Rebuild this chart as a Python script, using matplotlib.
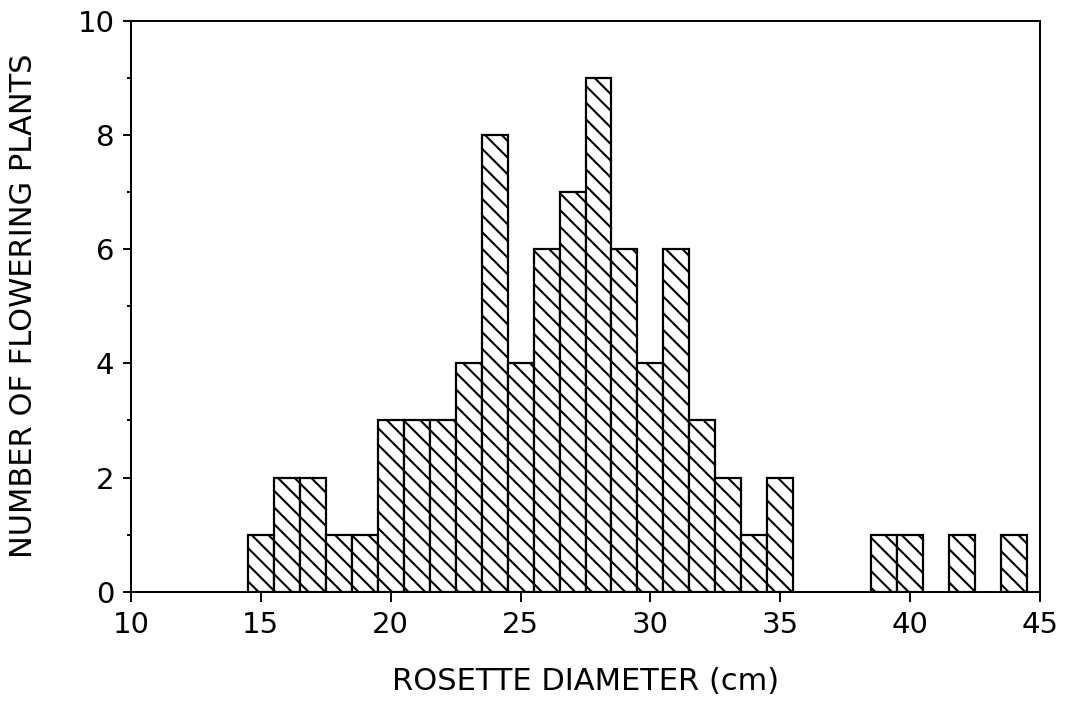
import matplotlib
matplotlib.use("Agg")
import matplotlib.pyplot as plt

diameters = [15, 16, 17, 18, 19, 20, 21, 22, 23, 24, 25, 26, 27, 28, 29, 30,
             31, 32, 33, 34, 35, 39, 40, 42, 44]
counts = [1, 2, 2, 1, 1, 3, 3, 3, 4, 8, 4, 6, 7, 9, 6, 4,
          6, 3, 2, 1, 2, 1, 1, 1, 1]
x_ticks = [10, 15, 20, 25, 30, 35, 40, 45]
y_ticks = [0, 2, 4, 6, 8, 10]
y_minor = [1, 3, 5, 7, 9]

plt.rcParams['font.family'] = ['DejaVu Sans']
plt.rcParams['hatch.linewidth'] = 1.5

fig = plt.figure(figsize=(10.72, 7.07), dpi=100)
ax = fig.add_axes([0.1222, 0.163, 0.848, 0.8077])

ax.bar(diameters, counts, width=1.0, align='center', facecolor='white',
       edgecolor='black', linewidth=1.6, hatch='\\\\')

ax.set_xlim(10, 45)
ax.set_ylim(0, 10)
ax.set_xticks(x_ticks)
ax.set_yticks(y_ticks)
ax.set_yticks(y_minor, minor=True)
ax.tick_params(axis='x', which='major', direction='out', length=7, width=1.4,
               labelsize=21, pad=7)
ax.tick_params(axis='y', which='major', direction='out', length=6, width=1.4,
               labelsize=21, pad=6)
ax.tick_params(axis='y', which='minor', direction='out', length=3, width=1.4)
for s in ax.spines.values():
    s.set_linewidth(1.4)

ax.set_xlabel('ROSETTE DIAMETER (cm)', fontsize=22, labelpad=20)
ax.set_ylabel('NUMBER OF FLOWERING PLANTS', fontsize=22, labelpad=28)

fig.savefig('out.png', dpi=100)
